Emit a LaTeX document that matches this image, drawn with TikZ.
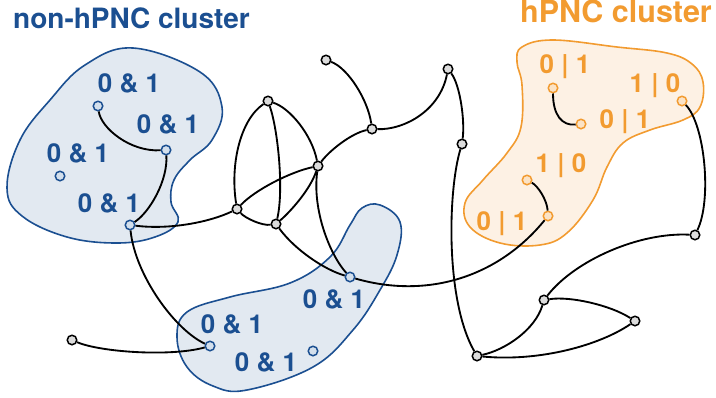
\documentclass[tikz,border=0pt]{standalone}
\usepackage{fontspec}
\setmainfont{TeX Gyre Heros}
\definecolor{hblue}{HTML}{1B4F91}
\definecolor{bfill}{HTML}{E2E9F1}
\definecolor{bnodefill}{HTML}{D3DFEC}
\definecolor{horange}{HTML}{F29B30}
\definecolor{ofill}{HTML}{FDF1E4}
\definecolor{onodefill}{HTML}{FBE3C6}
\definecolor{nodegray}{HTML}{DCDCDC}
\begin{document}
\begin{tikzpicture}[x=1pt,y=-1pt,
  edge/.style={line width=1.85pt, black},
  gnode/.style={circle, draw=black, fill=nodegray, line width=1.5pt, inner sep=0pt, minimum size=9.5pt},
  bnode/.style={circle, draw=hblue, fill=bnodefill, line width=1.5pt, inner sep=0pt, minimum size=9.5pt},
  onode/.style={circle, draw=horange, fill=onodefill, line width=1.5pt, inner sep=0pt, minimum size=9.5pt},
  blob/.style={line width=1.6pt, smooth cycle, tension=0.65},
  blab/.style={font=\fontsize{26}{26}\selectfont\bfseries, text=hblue, inner sep=0pt, anchor=base},
  olab/.style={font=\fontsize{26}{26}\selectfont\bfseries, text=horange, inner sep=0pt, anchor=base},
  ttl/.style={font=\fontsize{28}{28}\selectfont\bfseries, inner sep=0pt}
]
\useasboundingbox (0,0) rectangle (716,397);

% cluster outlines
\draw[blob, draw=hblue, fill=bfill] plot coordinates {
  (133,48) (200,72) (222,107) (212,140) (190,160) (174,180) (171,202)
  (178,222) (155,237) (117,243) (67,237) (22,216) (7,188) (20,140) (50,100) (85,65)};
\draw[blob, draw=hblue, fill=bfill] plot coordinates {
  (380,205) (400,222) (397,255) (380,290) (353,330) (313,367) (247,390)
  (213,386) (187,367) (177,337) (187,312) (230,297) (290,283) (330,257)
  (350,225) (362,208)};
\draw[blob, draw=horange, fill=ofill] plot coordinates {
  (522,47) (553,40) (617,47) (667,53) (692,64) (703,82) (700,107) (683,120)
  (650,130) (623,143) (607,167) (593,200) (567,233) (540,245) (500,243)
  (470,227) (465,203) (483,180) (507,153) (521,127) (522,85) (517,62)};

% titles
\node[ttl, text=hblue, anchor=base west] (t1) at (13,28) {non-hPNC cluster};
\node[ttl, font=\fontsize{30.5}{30.5}\selectfont\bfseries, text=horange, anchor=base east] (t2) at (712,22.5) {hPNC cluster};

% labels
\node[blab] (l1) at (129,92) {0 \& 1};
\node[blab] (l2) at (168,133) {0 \& 1};
\node[blab] (l3) at (78,162) {0 \& 1};
\node[blab] (l4) at (109,212) {0 \& 1};
\node[blab] (l5) at (334,308) {0 \& 1};
\node[blab] (l6) at (232,333) {0 \& 1};
\node[blab] (l7) at (266,371) {0 \& 1};
\node[olab] (p1) at (565,73) {0 | 1};
\node[olab] (p2) at (655,92) {1 | 0};
\node[olab] (p3) at (625,128) {0 | 1};
\node[olab] (p4) at (561,172) {1 | 0};
\node[olab] (p5) at (502,230) {0 | 1};

% plain nodes
\node[gnode] (A) at (237,209) {};
\node[gnode] (B) at (268,101) {};
\node[gnode] (C) at (276,224) {};
\node[gnode] (D) at (318,166) {};
\node[gnode] (E) at (326,60) {};
\node[gnode] (F) at (372,129) {};
\node[gnode] (G) at (448,69) {};
\node[gnode] (H) at (462,144) {};
\node[gnode] (I) at (695,235) {};
\node[gnode] (J) at (544,300) {};
\node[gnode] (K) at (635,321) {};
\node[gnode] (L) at (477,356) {};
\node[gnode] (M) at (72,340) {};

% non-hPNC nodes
\node[bnode] (n1) at (98,106) {};
\node[bnode] (n2) at (166,150) {};
\node[bnode] (n3) at (60,176) {};
\node[bnode] (n4) at (130,225) {};
\node[bnode] (n5) at (350,277) {};
\node[bnode] (n6) at (210,346) {};
\node[bnode] (n7) at (313,351) {};

% hPNC nodes
\node[onode] (o1) at (553,88) {};
\node[onode] (o2) at (581,124) {};
\node[onode] (o3) at (682,101) {};
\node[onode] (o4) at (527,180) {};
\node[onode] (o5) at (548,216) {};

% connectors
\draw[edge] (n1) .. controls (101,128) and (130,152) .. (n2);
\draw[edge] (n2) .. controls (168,180) and (150,212) .. (n4);
\draw[edge] (n4) .. controls (170,230) and (210,222) .. (A);
\draw[edge] (n4) .. controls (135,275) and (175,330) .. (n6);
\draw[edge] (M) .. controls (100,352) and (170,357) .. (n6);
\draw[edge] (A) .. controls (230,165) and (240,120) .. (B);
\draw[edge] (B) .. controls (278,130) and (284,190) .. (C);
\draw[edge] (B) .. controls (290,108) and (312,135) .. (D);
\draw[edge] (A) .. controls (255,190) and (290,172) .. (D);
\draw[edge] (A) .. controls (245,218) and (262,226) .. (C);
\draw[edge] (C) .. controls (290,212) and (310,190) .. (D);
\draw[edge] (D) .. controls (330,150) and (352,133) .. (F);
\draw[edge] (E) .. controls (348,68) and (368,100) .. (F);
\draw[edge] (F) .. controls (405,130) and (440,110) .. (G);
\draw[edge] (G) .. controls (460,85) and (465,120) .. (H);
\draw[edge] (H) .. controls (448,190) and (445,300) .. (L);
\draw[edge] (D) .. controls (312,210) and (330,255) .. (n5);
\draw[edge] (C) .. controls (295,250) and (325,270) .. (n5);
\draw[edge] (n5) .. controls (430,300) and (500,275) .. (o5);
\draw[edge] (o1) .. controls (553,115) and (562,126) .. (o2);
\draw[edge] (o4) .. controls (538,186) and (547,200) .. (o5);
\draw[edge] (o3) .. controls (705,125) and (712,200) .. (I);
\draw[edge] (I) .. controls (640,232) and (575,260) .. (J);
\draw[edge] (J) .. controls (570,296) and (610,305) .. (K);
\draw[edge] (J) .. controls (535,330) and (505,350) .. (L);
\draw[edge] (L) .. controls (540,362) and (600,345) .. (K);
\end{tikzpicture}
\end{document}
